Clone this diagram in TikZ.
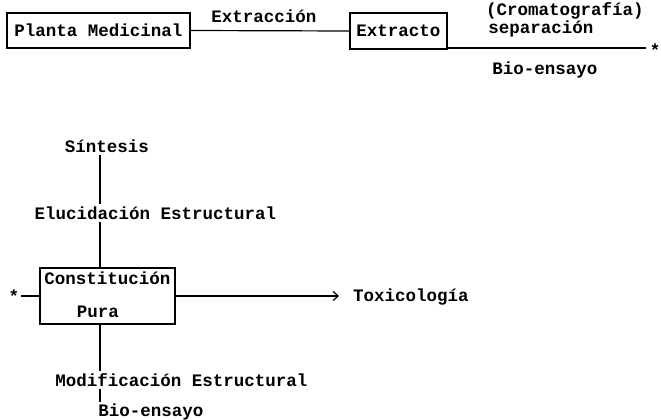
\documentclass[tikz,border=0pt]{standalone}
\usepackage{fontspec}
\setmonofont{Liberation Mono}
\usetikzlibrary{arrows.meta}
\tikzset{every node/.style={font=\ttfamily\bfseries\fontsize{17.5}{19}\selectfont},
         caja/.style={draw,line width=1.2pt,inner sep=0pt},
         rotulo/.style={inner sep=2pt},
         linea/.style={draw,line width=1.2pt},
         flecha/.style={linea,-{Straight Barb[length=5pt,width=9pt,line width=1.2pt]}},
         x=1pt,y=-1pt}
\begin{document}
\begin{tikzpicture}
\useasboundingbox (0,0) rectangle (661,420);
% upper row
\node[caja,minimum width=183pt,minimum height=35pt] (planta) at (98.5,30.5) {Planta Medicinal};
\node[caja,minimum width=97pt,minimum height=36pt] (extracto) at (398.5,31) {Extracto};
\node[rotulo] (extraccion) at (264,16) {Extracción};
\node[rotulo] (cromato) at (565,11) {(Cromatografía)};
\node[rotulo] (separa) at (541,28.5) {separación};
\node[rotulo] (bioarriba) at (545,70) {Bio-ensayo};
\node[rotulo] (estrella1) at (655,50) {*};
\coordinate (fin1) at (646,48);
\path[linea] (planta.east) -- (extracto.west);
\path[linea] (extracto.east |- fin1) -- (fin1);
% lower part
\coordinate (eje) at (100,0);
\node[rotulo] (sintesis) at (107,146) {Síntesis};
\node[rotulo] (elucida) at (155.5,213) {Elucidación Estructural};
\node[caja,minimum width=135pt,minimum height=56pt] (constit) at (107.5,296) {};
\node[inner sep=0pt] (constitu) at (107.5,278) {Constitución};
\node[inner sep=0pt] (pura) at (98,312) {Pura};
\node[rotulo] (estrella2) at (14,296) {*};
\node[rotulo] (toxico) at (411,297) {Toxicología};
\node[rotulo] (modifica) at (181.5,380) {Modificación Estructural};
\node[rotulo] (bioabajo) at (151,412) {Bio-ensayo};
\path[linea] (sintesis.south -| eje) -- (elucida.north -| eje);
\path[linea] (elucida.south -| eje) -- (constit.north -| eje);
\path[linea] (constit.south -| eje) -- (modifica.north -| eje);
\path[linea] (modifica.south -| eje) -- (bioabajo.north -| eje);
\path[linea] (estrella2.east |- constit.west) -- (constit.west);
\path[flecha,shorten >=12pt] (constit.east) -- (toxico.west |- constit.east);
\end{tikzpicture}
\end{document}
